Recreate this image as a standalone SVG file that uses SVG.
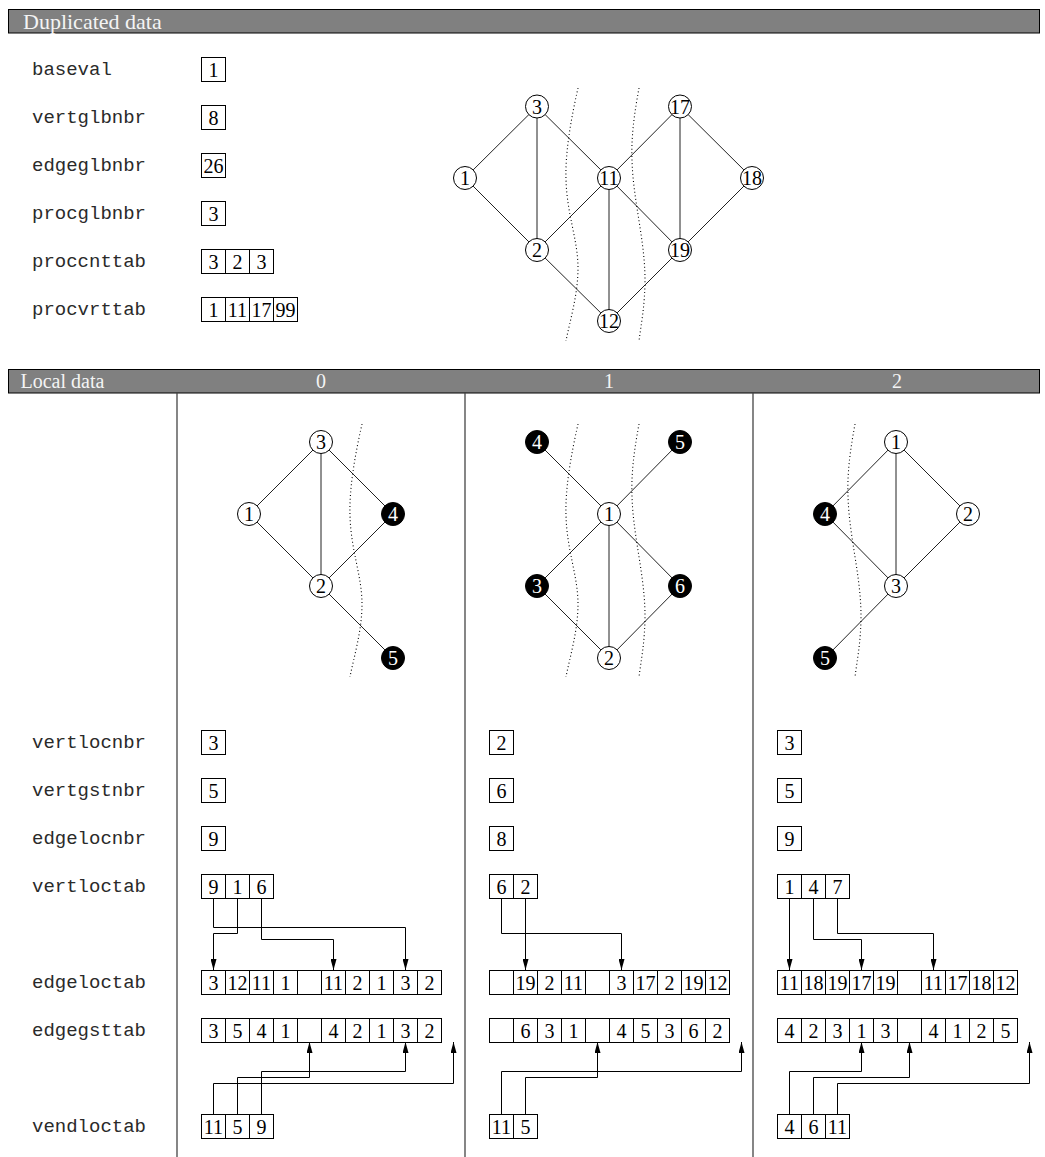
<svg xmlns="http://www.w3.org/2000/svg" width="1045" height="1157" viewBox="0 0 1045 1157">
<style>
.bar{fill:#808080;stroke:#000;stroke-width:1}
.hdr{font-family:"Liberation Serif",serif;font-size:22px;fill:#f4f4f4}
.hdr2{font-family:"Liberation Serif",serif;font-size:20px;fill:#f4f4f4}
.chdr{font-family:"Liberation Serif",serif;font-size:20px;fill:#f4f4f4;text-anchor:middle}
.lbl{font-family:"Liberation Mono",monospace;font-size:19px;fill:#2a2a2a}
.cell{fill:#fff;stroke:#000;stroke-width:1}
.num{font-family:"Liberation Serif",serif;font-size:20px;text-anchor:middle;fill:#000}
.nd circle{fill:#fff;stroke:#000;stroke-width:1}
.nd text{font-family:"Liberation Serif",serif;font-size:20px;text-anchor:middle;fill:#000}
.gh circle{fill:#000;stroke:#000;stroke-width:1}
.gh text{font-family:"Liberation Serif",serif;font-size:20px;text-anchor:middle;fill:#fff}
.edge{stroke:#222;stroke-width:1}
.cut{fill:none;stroke:#000;stroke-width:1.1;stroke-dasharray:1 2.6}
.arr{fill:none;stroke:#000;stroke-width:1;marker-end:url(#ah)}
.sep{stroke:#444;stroke-width:1.3}
</style>
<defs>
<marker id="ah" markerUnits="userSpaceOnUse" markerWidth="11" markerHeight="6" refX="11" refY="3" orient="auto">
<path d="M0,0 L11,3 L0,6 z" fill="#000"/>
</marker>
<path id="cutA" d="M578,88 C572,115 565,150 566,180 C567,215 578,240 578,268 C578,295 570,320 566,341"/>
<path id="cutB" d="M639,88 C635,110 631,135 632,160 C633,200 645,240 645,280 C645,305 641,325 639,341"/>
</defs>
<rect width="1045" height="1157" fill="#fff"/>

<!-- Header bars -->
<g id="hdr-dup">
<rect class="bar" x="8.5" y="9.5" width="1031" height="23.5"/>
<text class="hdr" x="23" y="28.5">Duplicated data</text>
</g>
<g id="hdr-loc">
<rect class="bar" x="8.5" y="369.5" width="1031" height="23.5"/>
<text class="hdr2" x="20.5" y="388">Local data</text>
<text class="chdr" x="321" y="388">0</text>
<text class="chdr" x="609" y="388">1</text>
<text class="chdr" x="897" y="388">2</text>
</g>
<g id="separators">
<line class="sep" x1="177" y1="393" x2="177" y2="1157"/>
<line class="sep" x1="465" y1="393" x2="465" y2="1157"/>
<line class="sep" x1="753" y1="393" x2="753" y2="1157"/>
</g>

<!-- Duplicated data labels and values -->
<g id="dup-baseval">
<text class="lbl" x="32" y="75">baseval</text>
<rect class="cell" x="201.5" y="57.5" width="24" height="24"/><text class="num" x="213.5" y="77">1</text>
</g>
<g id="dup-vertglbnbr">
<text class="lbl" x="32" y="123">vertglbnbr</text>
<rect class="cell" x="201.5" y="105.5" width="24" height="24"/><text class="num" x="213.5" y="125">8</text>
</g>
<g id="dup-edgeglbnbr">
<text class="lbl" x="32" y="171">edgeglbnbr</text>
<rect class="cell" x="201.5" y="153.5" width="24" height="24"/><text class="num" x="213.5" y="173">26</text>
</g>
<g id="dup-procglbnbr">
<text class="lbl" x="32" y="219">procglbnbr</text>
<rect class="cell" x="201.5" y="201.5" width="24" height="24"/><text class="num" x="213.5" y="221">3</text>
</g>
<g id="dup-proccnttab">
<text class="lbl" x="32" y="267">proccnttab</text>
<rect class="cell" x="201.5" y="249.5" width="24" height="24"/><text class="num" x="213.5" y="269">3</text>
<rect class="cell" x="225.5" y="249.5" width="24" height="24"/><text class="num" x="237.5" y="269">2</text>
<rect class="cell" x="249.5" y="249.5" width="24" height="24"/><text class="num" x="261.5" y="269">3</text>
</g>
<g id="dup-procvrttab">
<text class="lbl" x="32" y="315">procvrttab</text>
<rect class="cell" x="201.5" y="297.5" width="24" height="24"/><text class="num" x="213.5" y="317">1</text>
<rect class="cell" x="225.5" y="297.5" width="24" height="24"/><text class="num" x="237.5" y="317">11</text>
<rect class="cell" x="249.5" y="297.5" width="24" height="24"/><text class="num" x="261.5" y="317">17</text>
<rect class="cell" x="273.5" y="297.5" width="24" height="24"/><text class="num" x="285.5" y="317">99</text>
</g>

<!-- Connectors: graph edges, separator cuts, pointer arrows -->
<g id="connectors">
<!-- global graph edges -->
<line class="edge" x1="465" y1="178" x2="537" y2="106.5"/>
<line class="edge" x1="465" y1="178" x2="537" y2="250"/>
<line class="edge" x1="537" y1="106.5" x2="537" y2="250"/>
<line class="edge" x1="537" y1="106.5" x2="609" y2="178"/>
<line class="edge" x1="537" y1="250" x2="609" y2="178"/>
<line class="edge" x1="537" y1="250" x2="609" y2="321"/>
<line class="edge" x1="609" y1="178" x2="609" y2="321"/>
<line class="edge" x1="609" y1="178" x2="680" y2="106.5"/>
<line class="edge" x1="609" y1="178" x2="680" y2="250"/>
<line class="edge" x1="680" y1="106.5" x2="680" y2="250"/>
<line class="edge" x1="680" y1="106.5" x2="752" y2="178"/>
<line class="edge" x1="752" y1="178" x2="680" y2="250"/>
<line class="edge" x1="680" y1="250" x2="609" y2="321"/>
<use href="#cutA" class="cut"/>
<use href="#cutB" class="cut"/>
<!-- proc 0 graph edges -->
<line class="edge" x1="249" y1="514" x2="321" y2="442"/>
<line class="edge" x1="249" y1="514" x2="321" y2="586"/>
<line class="edge" x1="321" y1="442" x2="321" y2="586"/>
<line class="edge" x1="321" y1="442" x2="393" y2="514"/>
<line class="edge" x1="321" y1="586" x2="393" y2="514"/>
<line class="edge" x1="321" y1="586" x2="393" y2="658"/>
<use href="#cutA" class="cut" transform="translate(-216,336)"/>
<!-- proc 1 graph edges -->
<line class="edge" x1="537" y1="442" x2="609" y2="514"/>
<line class="edge" x1="680" y1="442" x2="609" y2="514"/>
<line class="edge" x1="609" y1="514" x2="537" y2="586"/>
<line class="edge" x1="609" y1="514" x2="609" y2="658"/>
<line class="edge" x1="609" y1="514" x2="680" y2="586"/>
<line class="edge" x1="537" y1="586" x2="609" y2="658"/>
<line class="edge" x1="680" y1="586" x2="609" y2="658"/>
<use href="#cutA" class="cut" transform="translate(0,336)"/>
<use href="#cutB" class="cut" transform="translate(0,336)"/>
<!-- proc 2 graph edges -->
<line class="edge" x1="896" y1="442" x2="825" y2="514"/>
<line class="edge" x1="896" y1="442" x2="896" y2="586"/>
<line class="edge" x1="896" y1="442" x2="968" y2="514"/>
<line class="edge" x1="825" y1="514" x2="896" y2="586"/>
<line class="edge" x1="968" y1="514" x2="896" y2="586"/>
<line class="edge" x1="896" y1="586" x2="825" y2="658"/>
<use href="#cutB" class="cut" transform="translate(216,336)"/>
<!-- proc 0 pointers -->
<polyline class="arr" points="213.5,898 213.5,927.5 405.5,927.5 405.5,970"/>
<polyline class="arr" points="237.5,898 237.5,933.5 213.5,933.5 213.5,970"/>
<polyline class="arr" points="261.5,898 261.5,939.5 333.5,939.5 333.5,970"/>
<polyline class="arr" points="213.5,1114 213.5,1083.5 453.5,1083.5 453.5,1042"/>
<polyline class="arr" points="237.5,1114 237.5,1077.5 309.5,1077.5 309.5,1042"/>
<polyline class="arr" points="261.5,1114 261.5,1071.5 405.5,1071.5 405.5,1042"/>
<!-- proc 1 pointers -->
<polyline class="arr" points="501.5,898 501.5,933.5 621.5,933.5 621.5,970"/>
<polyline class="arr" points="525.5,898 525.5,970"/>
<polyline class="arr" points="501.5,1114 501.5,1071.5 741.5,1071.5 741.5,1042"/>
<polyline class="arr" points="525.5,1114 525.5,1077.5 597.5,1077.5 597.5,1042"/>
<!-- proc 2 pointers -->
<polyline class="arr" points="789.5,898 789.5,970"/>
<polyline class="arr" points="813.5,898 813.5,939.5 861.5,939.5 861.5,970"/>
<polyline class="arr" points="837.5,898 837.5,933.5 933.5,933.5 933.5,970"/>
<polyline class="arr" points="789.5,1114 789.5,1071.5 861.5,1071.5 861.5,1042"/>
<polyline class="arr" points="813.5,1114 813.5,1077.5 909.5,1077.5 909.5,1042"/>
<polyline class="arr" points="837.5,1114 837.5,1083.5 1029.5,1083.5 1029.5,1042"/>
</g>

<!-- Global graph nodes -->
<g id="g-n1" class="nd"><circle cx="465" cy="178" r="11.5"/><text x="465" y="185">1</text></g>
<g id="g-n3" class="nd"><circle cx="537" cy="106.5" r="11.5"/><text x="537" y="113.5">3</text></g>
<g id="g-n2" class="nd"><circle cx="537" cy="250" r="11.5"/><text x="537" y="257">2</text></g>
<g id="g-n11" class="nd"><circle cx="609" cy="178" r="11.5"/><text x="609" y="185">11</text></g>
<g id="g-n12" class="nd"><circle cx="609" cy="321" r="11.5"/><text x="609" y="328">12</text></g>
<g id="g-n17" class="nd"><circle cx="680" cy="106.5" r="11.5"/><text x="680" y="113.5">17</text></g>
<g id="g-n18" class="nd"><circle cx="752" cy="178" r="11.5"/><text x="752" y="185">18</text></g>
<g id="g-n19" class="nd"><circle cx="680" cy="250" r="11.5"/><text x="680" y="257">19</text></g>

<!-- Proc 0 graph nodes -->
<g id="p0-n3" class="nd"><circle cx="321" cy="442" r="11.5"/><text x="321" y="449">3</text></g>
<g id="p0-n1" class="nd"><circle cx="249" cy="514" r="11.5"/><text x="249" y="521">1</text></g>
<g id="p0-n4" class="gh"><circle cx="393" cy="514" r="11.5"/><text x="393" y="521">4</text></g>
<g id="p0-n2" class="nd"><circle cx="321" cy="586" r="11.5"/><text x="321" y="593">2</text></g>
<g id="p0-n5" class="gh"><circle cx="393" cy="658" r="11.5"/><text x="393" y="665">5</text></g>

<!-- Proc 1 graph nodes -->
<g id="p1-n4" class="gh"><circle cx="537" cy="442" r="11.5"/><text x="537" y="449">4</text></g>
<g id="p1-n5" class="gh"><circle cx="680" cy="442" r="11.5"/><text x="680" y="449">5</text></g>
<g id="p1-n1" class="nd"><circle cx="609" cy="514" r="11.5"/><text x="609" y="521">1</text></g>
<g id="p1-n3" class="gh"><circle cx="537" cy="586" r="11.5"/><text x="537" y="593">3</text></g>
<g id="p1-n6" class="gh"><circle cx="680" cy="586" r="11.5"/><text x="680" y="593">6</text></g>
<g id="p1-n2" class="nd"><circle cx="609" cy="658" r="11.5"/><text x="609" y="665">2</text></g>

<!-- Proc 2 graph nodes -->
<g id="p2-n1" class="nd"><circle cx="896" cy="442" r="11.5"/><text x="896" y="449">1</text></g>
<g id="p2-n4" class="gh"><circle cx="825" cy="514" r="11.5"/><text x="825" y="521">4</text></g>
<g id="p2-n2" class="nd"><circle cx="968" cy="514" r="11.5"/><text x="968" y="521">2</text></g>
<g id="p2-n3" class="nd"><circle cx="896" cy="586" r="11.5"/><text x="896" y="593">3</text></g>
<g id="p2-n5" class="gh"><circle cx="825" cy="658" r="11.5"/><text x="825" y="665">5</text></g>

<!-- Local data labels -->
<g id="local-labels">
<text class="lbl" x="32" y="748">vertlocnbr</text>
<text class="lbl" x="32" y="796">vertgstnbr</text>
<text class="lbl" x="32" y="844">edgelocnbr</text>
<text class="lbl" x="32" y="892">vertloctab</text>
<text class="lbl" x="32" y="988">edgeloctab</text>
<text class="lbl" x="32" y="1036">edgegsttab</text>
<text class="lbl" x="32" y="1132">vendloctab</text>
</g>

<!-- Proc 0 arrays -->
<g id="p0-vertlocnbr"><rect class="cell" x="201.5" y="730.5" width="24" height="24"/><text class="num" x="213.5" y="750">3</text></g>
<g id="p0-vertgstnbr"><rect class="cell" x="201.5" y="778.5" width="24" height="24"/><text class="num" x="213.5" y="798">5</text></g>
<g id="p0-edgelocnbr"><rect class="cell" x="201.5" y="826.5" width="24" height="24"/><text class="num" x="213.5" y="846">9</text></g>
<g id="p0-vertloctab">
<rect class="cell" x="201.5" y="874.5" width="24" height="24"/><text class="num" x="213.5" y="894">9</text>
<rect class="cell" x="225.5" y="874.5" width="24" height="24"/><text class="num" x="237.5" y="894">1</text>
<rect class="cell" x="249.5" y="874.5" width="24" height="24"/><text class="num" x="261.5" y="894">6</text>
</g>
<g id="p0-edgeloctab">
<rect class="cell" x="201.5" y="970.5" width="24" height="24"/><text class="num" x="213.5" y="990">3</text>
<rect class="cell" x="225.5" y="970.5" width="24" height="24"/><text class="num" x="237.5" y="990">12</text>
<rect class="cell" x="249.5" y="970.5" width="24" height="24"/><text class="num" x="261.5" y="990">11</text>
<rect class="cell" x="273.5" y="970.5" width="24" height="24"/><text class="num" x="285.5" y="990">1</text>
<rect class="cell" x="297.5" y="970.5" width="24" height="24"/>
<rect class="cell" x="321.5" y="970.5" width="24" height="24"/><text class="num" x="333.5" y="990">11</text>
<rect class="cell" x="345.5" y="970.5" width="24" height="24"/><text class="num" x="357.5" y="990">2</text>
<rect class="cell" x="369.5" y="970.5" width="24" height="24"/><text class="num" x="381.5" y="990">1</text>
<rect class="cell" x="393.5" y="970.5" width="24" height="24"/><text class="num" x="405.5" y="990">3</text>
<rect class="cell" x="417.5" y="970.5" width="24" height="24"/><text class="num" x="429.5" y="990">2</text>
</g>
<g id="p0-edgegsttab">
<rect class="cell" x="201.5" y="1018.5" width="24" height="24"/><text class="num" x="213.5" y="1038">3</text>
<rect class="cell" x="225.5" y="1018.5" width="24" height="24"/><text class="num" x="237.5" y="1038">5</text>
<rect class="cell" x="249.5" y="1018.5" width="24" height="24"/><text class="num" x="261.5" y="1038">4</text>
<rect class="cell" x="273.5" y="1018.5" width="24" height="24"/><text class="num" x="285.5" y="1038">1</text>
<rect class="cell" x="297.5" y="1018.5" width="24" height="24"/>
<rect class="cell" x="321.5" y="1018.5" width="24" height="24"/><text class="num" x="333.5" y="1038">4</text>
<rect class="cell" x="345.5" y="1018.5" width="24" height="24"/><text class="num" x="357.5" y="1038">2</text>
<rect class="cell" x="369.5" y="1018.5" width="24" height="24"/><text class="num" x="381.5" y="1038">1</text>
<rect class="cell" x="393.5" y="1018.5" width="24" height="24"/><text class="num" x="405.5" y="1038">3</text>
<rect class="cell" x="417.5" y="1018.5" width="24" height="24"/><text class="num" x="429.5" y="1038">2</text>
</g>
<g id="p0-vendloctab">
<rect class="cell" x="201.5" y="1114.5" width="24" height="24"/><text class="num" x="213.5" y="1134">11</text>
<rect class="cell" x="225.5" y="1114.5" width="24" height="24"/><text class="num" x="237.5" y="1134">5</text>
<rect class="cell" x="249.5" y="1114.5" width="24" height="24"/><text class="num" x="261.5" y="1134">9</text>
</g>

<!-- Proc 1 arrays -->
<g id="p1-vertlocnbr"><rect class="cell" x="489.5" y="730.5" width="24" height="24"/><text class="num" x="501.5" y="750">2</text></g>
<g id="p1-vertgstnbr"><rect class="cell" x="489.5" y="778.5" width="24" height="24"/><text class="num" x="501.5" y="798">6</text></g>
<g id="p1-edgelocnbr"><rect class="cell" x="489.5" y="826.5" width="24" height="24"/><text class="num" x="501.5" y="846">8</text></g>
<g id="p1-vertloctab">
<rect class="cell" x="489.5" y="874.5" width="24" height="24"/><text class="num" x="501.5" y="894">6</text>
<rect class="cell" x="513.5" y="874.5" width="24" height="24"/><text class="num" x="525.5" y="894">2</text>
</g>
<g id="p1-edgeloctab">
<rect class="cell" x="489.5" y="970.5" width="24" height="24"/>
<rect class="cell" x="513.5" y="970.5" width="24" height="24"/><text class="num" x="525.5" y="990">19</text>
<rect class="cell" x="537.5" y="970.5" width="24" height="24"/><text class="num" x="549.5" y="990">2</text>
<rect class="cell" x="561.5" y="970.5" width="24" height="24"/><text class="num" x="573.5" y="990">11</text>
<rect class="cell" x="585.5" y="970.5" width="24" height="24"/>
<rect class="cell" x="609.5" y="970.5" width="24" height="24"/><text class="num" x="621.5" y="990">3</text>
<rect class="cell" x="633.5" y="970.5" width="24" height="24"/><text class="num" x="645.5" y="990">17</text>
<rect class="cell" x="657.5" y="970.5" width="24" height="24"/><text class="num" x="669.5" y="990">2</text>
<rect class="cell" x="681.5" y="970.5" width="24" height="24"/><text class="num" x="693.5" y="990">19</text>
<rect class="cell" x="705.5" y="970.5" width="24" height="24"/><text class="num" x="717.5" y="990">12</text>
</g>
<g id="p1-edgegsttab">
<rect class="cell" x="489.5" y="1018.5" width="24" height="24"/>
<rect class="cell" x="513.5" y="1018.5" width="24" height="24"/><text class="num" x="525.5" y="1038">6</text>
<rect class="cell" x="537.5" y="1018.5" width="24" height="24"/><text class="num" x="549.5" y="1038">3</text>
<rect class="cell" x="561.5" y="1018.5" width="24" height="24"/><text class="num" x="573.5" y="1038">1</text>
<rect class="cell" x="585.5" y="1018.5" width="24" height="24"/>
<rect class="cell" x="609.5" y="1018.5" width="24" height="24"/><text class="num" x="621.5" y="1038">4</text>
<rect class="cell" x="633.5" y="1018.5" width="24" height="24"/><text class="num" x="645.5" y="1038">5</text>
<rect class="cell" x="657.5" y="1018.5" width="24" height="24"/><text class="num" x="669.5" y="1038">3</text>
<rect class="cell" x="681.5" y="1018.5" width="24" height="24"/><text class="num" x="693.5" y="1038">6</text>
<rect class="cell" x="705.5" y="1018.5" width="24" height="24"/><text class="num" x="717.5" y="1038">2</text>
</g>
<g id="p1-vendloctab">
<rect class="cell" x="489.5" y="1114.5" width="24" height="24"/><text class="num" x="501.5" y="1134">11</text>
<rect class="cell" x="513.5" y="1114.5" width="24" height="24"/><text class="num" x="525.5" y="1134">5</text>
</g>

<!-- Proc 2 arrays -->
<g id="p2-vertlocnbr"><rect class="cell" x="777.5" y="730.5" width="24" height="24"/><text class="num" x="789.5" y="750">3</text></g>
<g id="p2-vertgstnbr"><rect class="cell" x="777.5" y="778.5" width="24" height="24"/><text class="num" x="789.5" y="798">5</text></g>
<g id="p2-edgelocnbr"><rect class="cell" x="777.5" y="826.5" width="24" height="24"/><text class="num" x="789.5" y="846">9</text></g>
<g id="p2-vertloctab">
<rect class="cell" x="777.5" y="874.5" width="24" height="24"/><text class="num" x="789.5" y="894">1</text>
<rect class="cell" x="801.5" y="874.5" width="24" height="24"/><text class="num" x="813.5" y="894">4</text>
<rect class="cell" x="825.5" y="874.5" width="24" height="24"/><text class="num" x="837.5" y="894">7</text>
</g>
<g id="p2-edgeloctab">
<rect class="cell" x="777.5" y="970.5" width="24" height="24"/><text class="num" x="789.5" y="990">11</text>
<rect class="cell" x="801.5" y="970.5" width="24" height="24"/><text class="num" x="813.5" y="990">18</text>
<rect class="cell" x="825.5" y="970.5" width="24" height="24"/><text class="num" x="837.5" y="990">19</text>
<rect class="cell" x="849.5" y="970.5" width="24" height="24"/><text class="num" x="861.5" y="990">17</text>
<rect class="cell" x="873.5" y="970.5" width="24" height="24"/><text class="num" x="885.5" y="990">19</text>
<rect class="cell" x="897.5" y="970.5" width="24" height="24"/>
<rect class="cell" x="921.5" y="970.5" width="24" height="24"/><text class="num" x="933.5" y="990">11</text>
<rect class="cell" x="945.5" y="970.5" width="24" height="24"/><text class="num" x="957.5" y="990">17</text>
<rect class="cell" x="969.5" y="970.5" width="24" height="24"/><text class="num" x="981.5" y="990">18</text>
<rect class="cell" x="993.5" y="970.5" width="24" height="24"/><text class="num" x="1005.5" y="990">12</text>
</g>
<g id="p2-edgegsttab">
<rect class="cell" x="777.5" y="1018.5" width="24" height="24"/><text class="num" x="789.5" y="1038">4</text>
<rect class="cell" x="801.5" y="1018.5" width="24" height="24"/><text class="num" x="813.5" y="1038">2</text>
<rect class="cell" x="825.5" y="1018.5" width="24" height="24"/><text class="num" x="837.5" y="1038">3</text>
<rect class="cell" x="849.5" y="1018.5" width="24" height="24"/><text class="num" x="861.5" y="1038">1</text>
<rect class="cell" x="873.5" y="1018.5" width="24" height="24"/><text class="num" x="885.5" y="1038">3</text>
<rect class="cell" x="897.5" y="1018.5" width="24" height="24"/>
<rect class="cell" x="921.5" y="1018.5" width="24" height="24"/><text class="num" x="933.5" y="1038">4</text>
<rect class="cell" x="945.5" y="1018.5" width="24" height="24"/><text class="num" x="957.5" y="1038">1</text>
<rect class="cell" x="969.5" y="1018.5" width="24" height="24"/><text class="num" x="981.5" y="1038">2</text>
<rect class="cell" x="993.5" y="1018.5" width="24" height="24"/><text class="num" x="1005.5" y="1038">5</text>
</g>
<g id="p2-vendloctab">
<rect class="cell" x="777.5" y="1114.5" width="24" height="24"/><text class="num" x="789.5" y="1134">4</text>
<rect class="cell" x="801.5" y="1114.5" width="24" height="24"/><text class="num" x="813.5" y="1134">6</text>
<rect class="cell" x="825.5" y="1114.5" width="24" height="24"/><text class="num" x="837.5" y="1134">11</text>
</g>
</svg>
